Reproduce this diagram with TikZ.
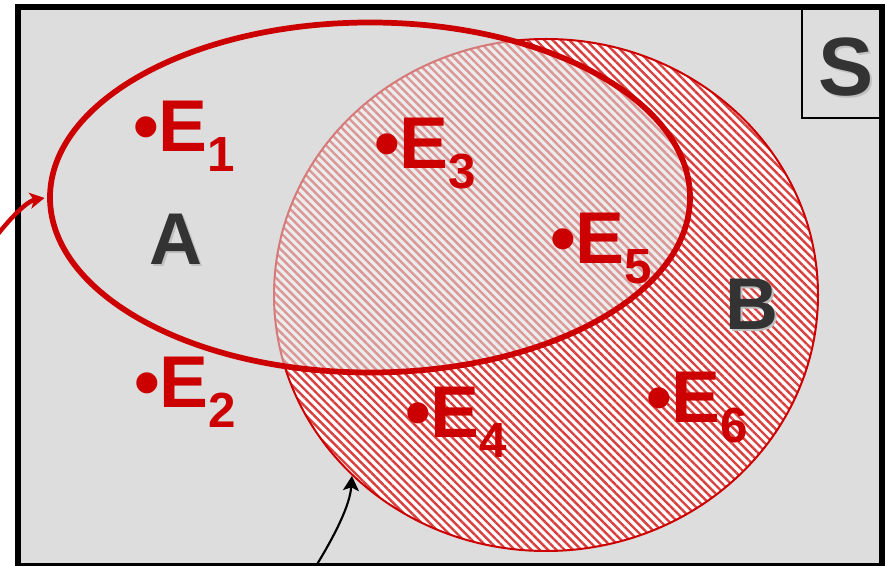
\documentclass[tikz,border=0pt]{standalone}
\usepackage{fontspec}
\setmainfont{Liberation Sans}
\usetikzlibrary{shapes.geometric,patterns.meta,arrows.meta}
\definecolor{ered}{RGB}{204,0,0}
\definecolor{bggray}{RGB}{221,221,221}
\definecolor{setgray}{RGB}{51,51,51}
\newcommand\esub[1]{\raisebox{-15pt}{\fontsize{37}{37}\selectfont #1}}
\newcommand\shadowed[1]{\makebox[0pt][l]{\kern1.5pt\raisebox{-1.5pt}{\color{black!25}#1}}#1}

\begin{document}
\begin{tikzpicture}[x=0.75pt, y=-0.75pt,
	elabel/.style={text=ered, font=\fontsize{55}{55}\selectfont\bfseries, inner sep=0, anchor=base west},
	setname/.style={text=setgray, font=\fontsize{#1}{#1}\selectfont\bfseries, inner sep=0, anchor=base},
	hatched/.style={preaction={fill=white}, pattern={Lines[angle=-45, distance=4.4pt, line width=1.8pt]}, pattern color=ered!75!white}]
	\useasboundingbox (0,0) rectangle (890,566);
	% ================= 样本空间 S =================
	\draw[line width=4.5pt, fill=bggray] (18,7) rectangle (882,566);
	\draw[line width=1.5pt] (802,7) rectangle (882,118);
	\node[setname=62] (S) at (846,96) {\shadowed{S}};
	
	% ================= 事件 B (阴影圆) 与事件 A (椭圆) =================
	\node[ellipse, draw=ered, line width=1.5pt, hatched, inner sep=0,
		minimum width=408pt, minimum height=384pt] (setB) at (546,295) {};
	\node[ellipse, draw=ered, line width=4.3pt, fill=bggray, fill opacity=0.55, inner sep=0,
		minimum width=480pt, minimum height=262.5pt] (setA) at (370,197.5) {};
	\node[setname=55] (A) at (176,265) {\shadowed{A}};
	\node[setname=55] (B) at (752,330) {\shadowed{B}};
	
	% 基本事件
	\node[elabel] (e1) at (133,152) {•E\esub{1}};
	\node[elabel] (e2) at (134,408) {•E\esub{2}};
	\node[elabel] (e3) at (374,169) {•E\esub{3}};
	\node[elabel] (e4) at (405,438) {•E\esub{4}};
	\node[elabel] (e5) at (550,264) {•E\esub{5}};
	\node[elabel] (e6) at (646,423) {•E\esub{6}};
	
	% 指示箭头
	\coordinate (atail) at (-2,234);
	\coordinate (btail) at (316,566);
	\draw[ered, line width=3.3pt, -{Stealth[length=11pt, width=12pt, inset=3pt]}, shorten >=2pt]
		(atail) .. controls (14,214) and (28,201) .. (setA.west);
	\draw[line width=1.6pt, -{Stealth[length=11pt, width=12pt, inset=2.5pt]}]
		(btail) .. controls (335,535) and (350,505) .. (setB.223);
\end{tikzpicture}
\end{document}
